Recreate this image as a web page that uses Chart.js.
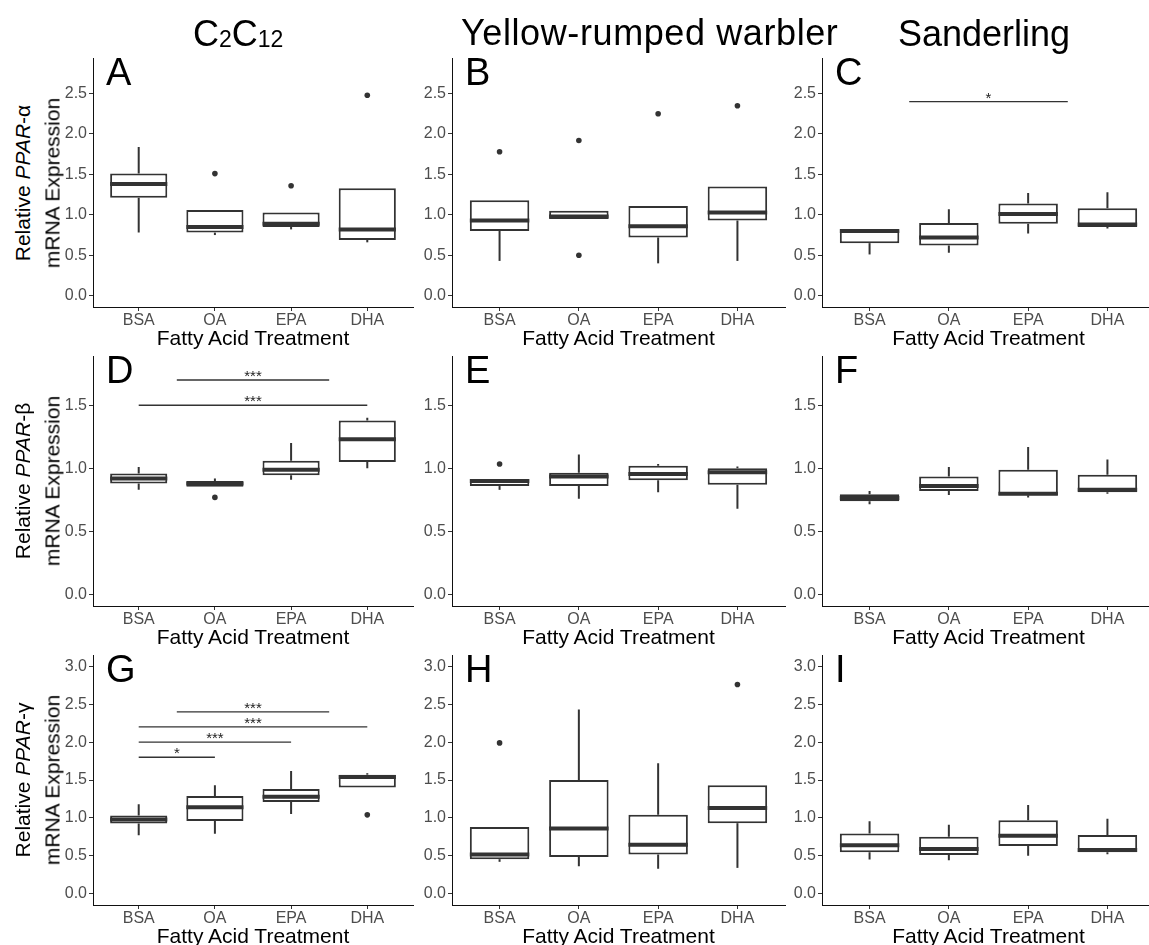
<!DOCTYPE html>
<html><head><meta charset="utf-8">
<script src="https://cdn.jsdelivr.net/npm/chart.js@4.4.0/dist/chart.umd.min.js"></script>
<style>
html,body{margin:0;padding:0;background:#fff;overflow:hidden;width:1149px;height:945px;}
body{position:relative;font-family:'Liberation Sans',Arial,Helvetica,sans-serif;}
canvas{position:absolute;}
.t{position:absolute;white-space:nowrap;color:#000;line-height:1;}
.col{font-size:36px;line-height:36px;}
.wide{letter-spacing:0.6px;}
.sub{font-size:23px;vertical-align:-1px;}
.let{font-size:38px;line-height:38px;}
.xt{font-size:21px;line-height:21px;transform:translateX(-50%);}
.yt{font-size:21px;line-height:21px;transform:translate(-50%,-50%) rotate(-90deg);}
</style></head><body>
<script>
// ---------- data ----------
const categories = ['BSA', 'OA', 'EPA', 'DHA'];
const columnTitles = ['C<span class="sub">2</span>C<span class="sub">12</span>', '<span class="wide">Yellow-rumped warbler</span>', 'Sanderling'];
const geneLabels = ['α', 'β', 'γ'];
const panelLetters = ['A', 'B', 'C', 'D', 'E', 'F', 'G', 'H', 'I'];
const xTitle = 'Fatty Acid Treatment';
const yTicksRow1 = [0, 0.5, 1.0, 1.5, 2.0, 2.5];
const yTicksRow2 = [0, 0.5, 1.0, 1.5];
const yTicksRow3 = [0, 0.5, 1.0, 1.5, 2.0, 2.5, 3.0];

// five-number summaries per category: [whisker low, Q1, median, Q3, whisker high]
const boxA = [[0.78, 1.21, 1.38, 1.51, 1.84], [0.75, 0.78, 0.85, 1.06, 1.06], [0.82, 0.85, 0.89, 1.03, 1.03], [0.66, 0.69, 0.82, 1.33, 1.33]];
const boxB = [[0.43, 0.80, 0.93, 1.18, 1.18], [0.95, 0.95, 0.98, 1.05, 1.05], [0.40, 0.72, 0.86, 1.11, 1.11], [0.43, 0.93, 1.03, 1.35, 1.35]];
const boxC = [[0.51, 0.65, 0.80, 0.81, 0.81], [0.53, 0.62, 0.72, 0.90, 1.07], [0.77, 0.89, 1.01, 1.14, 1.27], [0.83, 0.85, 0.88, 1.08, 1.28]];
const boxD = [[0.83, 0.88, 0.92, 0.96, 1.01], [0.855, 0.855, 0.88, 0.90, 0.92], [0.91, 0.945, 0.99, 1.06, 1.20], [1.00, 1.05, 1.23, 1.38, 1.40]];
const boxE = [[0.83, 0.86, 0.90, 0.915, 0.915], [0.76, 0.86, 0.935, 0.965, 1.11], [0.81, 0.905, 0.955, 1.02, 1.035], [0.68, 0.87, 0.97, 1.00, 1.015]];
const boxF = [[0.715, 0.74, 0.765, 0.795, 0.82], [0.79, 0.82, 0.86, 0.935, 1.01], [0.77, 0.787, 0.80, 0.99, 1.17], [0.80, 0.81, 0.83, 0.95, 1.07]];
const boxG = [[0.77, 0.925, 0.98, 1.03, 1.18], [0.79, 0.96, 1.14, 1.29, 1.43], [1.05, 1.21, 1.28, 1.38, 1.62], [1.40, 1.40, 1.54, 1.57, 1.59]];
const boxH = [[0.42, 0.455, 0.515, 0.88, 0.88], [0.36, 0.485, 0.86, 1.50, 2.43], [0.33, 0.515, 0.645, 1.04, 1.72], [0.34, 0.93, 1.13, 1.43, 1.43]];
const boxI = [[0.45, 0.545, 0.64, 0.795, 0.955], [0.44, 0.51, 0.59, 0.75, 0.91], [0.50, 0.63, 0.765, 0.97, 1.17], [0.52, 0.545, 0.575, 0.775, 0.99]];

// outliers: [category number (1-4), value]
const outA = [[2, 1.51], [3, 1.36], [4, 2.48]];
const outB = [[1, 1.78], [2, 1.92], [2, 0.50], [3, 2.25], [4, 2.35]];
const outC = [];
const outD = [[2, 0.77]];
const outE = [[1, 1.035]];
const outF = [];
const outG = [[4, 1.04]];
const outH = [[1, 1.99], [4, 2.76]];
const outI = [];

// significance bars: [from, to, value, label]
const sigC = [[1.5, 3.5, 2.4, '*']];
const sigD = [[1.5, 3.5, 1.7, '***'], [1, 4, 1.5, '***']];
const sigG = [[1.5, 3.5, 2.4, '***'], [1, 4, 2.2, '***'], [1, 3, 2.0, '***'], [1, 2, 1.8, '*']];

// ---------- layout ----------
const FONT = "'Liberation Sans', Arial, Helvetica, sans-serif";
const colLeft = [93, 452, 822], colRight = [413, 785, 1155];
const rowTop = [58, 356, 655], rowBottom = [307, 606, 905];
const rowRange = [[-0.14, 2.94], [-0.09, 1.89], [-0.15, 3.15]];
const rowTicks = [yTicksRow1, yTicksRow2, yTicksRow3];
const boxes = [boxA, boxB, boxC, boxD, boxE, boxF, boxG, boxH, boxI];
const outs = [outA, outB, outC, outD, outE, outF, outG, outH, outI];
const sigs = [[], [], sigC, sigD, [], [], sigG, [], []];
const YW = 50, PADT = 10, PADR = 10, XH = 24;
const BOXW = 0.75;

const boxExtras = {
  id: 'boxExtras',
  beforeDatasetsDraw(chart) {
    const o = chart.options.plugins.boxExtras; if (!o) return;
    const {ctx, scales: {x, y}} = chart;
    ctx.save();
    ctx.strokeStyle = '#333'; ctx.lineWidth = 2;
    o.box.forEach((b, i) => {
      const px = x.getPixelForValue(i + 1);
      ctx.beginPath();
      if (b[4] > b[3]) { ctx.moveTo(px, y.getPixelForValue(b[3])); ctx.lineTo(px, y.getPixelForValue(b[4])); }
      if (b[0] < b[1]) { ctx.moveTo(px, y.getPixelForValue(b[1])); ctx.lineTo(px, y.getPixelForValue(b[0])); }
      ctx.stroke();
    });
    ctx.restore();
  },
  afterDatasetsDraw(chart) {
    const o = chart.options.plugins.boxExtras; if (!o) return;
    const {ctx, scales: {x, y}} = chart;
    ctx.save();
    ctx.strokeStyle = '#333'; ctx.lineWidth = 4;
    o.box.forEach((b, i) => {
      const py = y.getPixelForValue(b[2]);
      ctx.beginPath();
      ctx.moveTo(x.getPixelForValue(i + 1 - BOXW / 2), py);
      ctx.lineTo(x.getPixelForValue(i + 1 + BOXW / 2), py);
      ctx.stroke();
    });
    ctx.lineWidth = 1.3; ctx.fillStyle = '#222';
    ctx.font = '15px ' + FONT; ctx.textAlign = 'center'; ctx.textBaseline = 'alphabetic';
    o.sig.forEach(s => {
      const py = y.getPixelForValue(s[2]);
      const x1 = x.getPixelForValue(s[0]), x2 = x.getPixelForValue(s[1]);
      ctx.beginPath(); ctx.moveTo(x1, py); ctx.lineTo(x2, py); ctx.stroke();
      ctx.fillText(s[3], (x1 + x2) / 2, py + 1);
    });
    ctx.restore();
  }
};

function zeroPad(s) { s.paddingTop = 0; s.paddingBottom = 0; s.paddingLeft = 0; s.paddingRight = 0; }

function addText(cls, html, left, top) {
  const d = document.createElement('div');
  d.className = 't ' + cls; d.innerHTML = html;
  d.style.left = left + 'px'; d.style.top = top + 'px';
  document.body.appendChild(d);
}

for (let r = 0; r < 3; r++) {
  for (let c = 0; c < 3; c++) {
    const k = r * 3 + c;
    const L = colLeft[c], R = colRight[c], T = rowTop[r], B = rowBottom[r];
    const W = R - L + YW + PADR, H = B - T + PADT + XH;
    const cv = document.createElement('canvas');
    cv.width = W; cv.height = H;
    cv.style.left = (L - YW) + 'px'; cv.style.top = (T - PADT) + 'px';
    cv.style.width = W + 'px'; cv.style.height = H + 'px';
    document.body.appendChild(cv);
    const ticksY = rowTicks[r];
    new Chart(cv, {
      type: 'bar',
      data: {
        datasets: [
          { type: 'bar', data: boxes[k].map((b, i) => ({x: i + 1, y: [b[1], b[3]]})),
            backgroundColor: '#ffffff', borderColor: '#333333', borderWidth: 2, borderSkipped: false,
            barPercentage: BOXW, categoryPercentage: 1, order: 2 },
          { type: 'scatter', data: outs[k].map(o => ({x: o[0], y: o[1]})),
            pointRadius: 2.8, pointBackgroundColor: '#333333', pointBorderWidth: 0, order: 1 }
        ]
      },
      plugins: [boxExtras],
      options: {
        responsive: false, animation: false, devicePixelRatio: 1, events: [],
        layout: { padding: { top: PADT, right: PADR, left: 0, bottom: 0 } },
        plugins: { legend: { display: false }, tooltip: { enabled: false },
          boxExtras: { box: boxes[k], sig: sigs[k] } },
        scales: {
          x: {
            type: 'linear', min: 0.4, max: 4.6, offset: false,
            afterBuildTicks: s => { s.ticks = categories.map((cat, i) => ({value: i + 1})); },
            afterFit: s => { s.height = XH; zeroPad(s); },
            ticks: { callback: v => categories[Math.round(v) - 1], padding: 0, color: '#4D4D4D',
              font: { family: FONT, size: 16 }, autoSkip: false, maxRotation: 0, minRotation: 0 },
            grid: { display: true, offset: false, drawOnChartArea: false, drawTicks: true, tickLength: 4, color: '#333', lineWidth: 1 },
            border: { display: true, color: '#111', width: 1 }
          },
          y: {
            type: 'linear', min: rowRange[r][0], max: rowRange[r][1],
            afterBuildTicks: s => { s.ticks = ticksY.map(v => ({value: v})); },
            afterFit: s => { s.width = YW; zeroPad(s); },
            ticks: { callback: v => Number(v).toFixed(1), padding: 2, color: '#4D4D4D',
              font: { family: FONT, size: 16 } },
            grid: { display: true, drawOnChartArea: false, drawTicks: true, tickLength: 4, color: '#333', lineWidth: 1 },
            border: { display: true, color: '#111', width: 1 }
          }
        }
      }
    });
    addText('let', panelLetters[k], L + 13, T - 5);
    addText('xt', xTitle, (L + R) / 2, B + 20);
  }
  const cy = (rowTop[r] + rowBottom[r]) / 2;
  addText('yt', 'Relative <i>PPAR</i>-' + geneLabels[r], 21.5, cy);
  addText('yt', 'mRNA Expression', 51.5, cy);
}
addText('col', columnTitles[0], 193, 16);
addText('col', columnTitles[1], 461, 14.5);
addText('col', columnTitles[2], 898, 16);
</script>
</body></html>
